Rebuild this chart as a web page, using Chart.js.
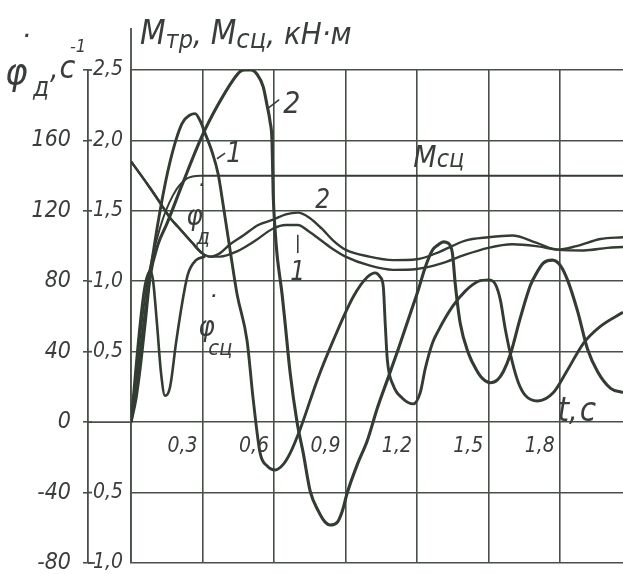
<!DOCTYPE html>
<html><head><meta charset="utf-8">
<script src="https://cdn.jsdelivr.net/npm/chart.js@4.4.1/dist/chart.umd.min.js"></script>
<style>html,body{margin:0;padding:0;background:#fff;} canvas{display:block}</style>
</head><body>
<canvas id="c" width="623" height="574"></canvas>
<script>
// ---- tick values / labels ----
const xTickValues = [0, 0.3, 0.6, 0.9, 1.2, 1.5, 1.8];
const xTickLabels = ['', '0,3', '0,6', '0,9', '1,2', '1,5', '1,8'];
const mTickValues = [-1, -0.5, 0, 0.5, 1, 1.5, 2, 2.5];
const mTickLabels = ['1,0', '0,5', '', '0,5', '1,0', '1,5', '2,0', '2,5'];
const phiTickValues = [-80, -40, 0, 40, 80, 120, 160, 200];
const phiTickLabels = ['-80', '-40', '0', '40', '80', '120', '160', ''];

// ---- M_тр, case 1 (kN·m) ----
const m1T = [0, 0.021, 0.038, 0.059, 0.080, 0.122, 0.164, 0.214, 0.248, 0.269, 0.290, 0.311, 0.340, 0.366, 0.387, 0.416, 0.445, 0.487, 0.513, 0.542, 0.571, 0.605, 0.639, 0.668, 0.710, 0.782, 0.849, 0.933, 0.992, 1.025, 1.046, 1.059, 1.067, 1.076, 1.101, 1.139, 1.185, 1.214, 1.235, 1.265, 1.290, 1.349, 1.403, 1.458, 1.500, 1.529, 1.550, 1.571, 1.600, 1.626, 1.655, 1.706, 1.773, 1.832, 1.899, 1.970, 2.065];
const m1V = [0, 0.24, 0.49, 0.77, 1.05, 1.50, 1.85, 2.12, 2.18, 2.19, 2.14, 2.05, 1.92, 1.76, 1.54, 1.22, 0.91, 0.58, 0.16, -0.22, -0.31, -0.34, -0.30, -0.22, -0.05, 0.30, 0.58, 0.89, 1.03, 1.06, 1.03, 0.96, 0.70, 0.44, 0.26, 0.17, 0.13, 0.21, 0.38, 0.56, 0.65, 0.82, 0.93, 1.00, 1.01, 0.98, 0.87, 0.66, 0.43, 0.28, 0.19, 0.15, 0.21, 0.37, 0.56, 0.68, 0.78];

// ---- M_тр, case 2 (kN·m) ----
const m2T = [0, 0.021, 0.038, 0.059, 0.080, 0.113, 0.151, 0.218, 0.298, 0.361, 0.429, 0.458, 0.479, 0.504, 0.529, 0.555, 0.571, 0.584, 0.592, 0.597, 0.605, 0.613, 0.634, 0.647, 0.668, 0.697, 0.723, 0.752, 0.786, 0.815, 0.836, 0.866, 0.887, 0.908, 0.950, 0.992, 1.034, 1.076, 1.122, 1.172, 1.206, 1.235, 1.265, 1.290, 1.311, 1.332, 1.349, 1.361, 1.382, 1.416, 1.450, 1.475, 1.508, 1.538, 1.563, 1.592, 1.634, 1.676, 1.706, 1.731, 1.769, 1.803, 1.832, 1.874, 1.916, 1.958, 2.013, 2.065];
const m2V = [0, 0.17, 0.38, 0.70, 1.03, 1.26, 1.41, 1.70, 2.03, 2.24, 2.43, 2.49, 2.50, 2.50, 2.47, 2.38, 2.25, 2.13, 1.99, 1.61, 1.36, 1.19, 0.91, 0.70, 0.35, 0.00, -0.22, -0.49, -0.63, -0.71, -0.73, -0.71, -0.63, -0.50, -0.30, -0.13, 0.10, 0.30, 0.52, 0.77, 0.94, 1.10, 1.22, 1.26, 1.28, 1.27, 1.20, 0.98, 0.70, 0.49, 0.37, 0.31, 0.28, 0.30, 0.36, 0.48, 0.74, 0.97, 1.07, 1.13, 1.15, 1.11, 1.01, 0.79, 0.52, 0.36, 0.24, 0.21];

// ---- M_сц (kN·m) ----
const mScT = [0, 0.021, 0.067, 0.122, 0.176, 0.235, 0.290, 2.065];
const mScV = [0, 0.35, 0.98, 1.38, 1.61, 1.73, 1.75, 1.75];

// ---- engine speed φ̇д (s^-1): common start, then cases 1 and 2 ----
const phiStartT = [0, 0.038, 0.080, 0.130, 0.164, 0.197, 0.256, 0.298, 0.332];
const phiStartV = [148, 141, 133, 123, 116, 111, 102, 96, 94];
const phi1T = [0.374, 0.445, 0.521, 0.597, 0.650, 0.700, 0.750, 0.800, 0.850, 0.900, 1.000, 1.100, 1.200, 1.300, 1.400, 1.500, 1.600, 1.700, 1.790, 1.900, 2.000, 2.065];
const phi1V = [94, 97, 103, 110, 112, 112, 108, 103, 98, 94, 89, 86.5, 87, 90, 95, 99, 101, 100, 98, 97.5, 99, 99.5];
const phi2T = [0.374, 0.416, 0.471, 0.534, 0.597, 0.650, 0.700, 0.750, 0.800, 0.850, 0.900, 1.000, 1.100, 1.200, 1.300, 1.400, 1.500, 1.600, 1.700, 1.790, 1.870, 1.970, 2.065];
const phi2V = [96, 101, 106, 112, 115, 118, 119, 116, 110, 103, 98, 94, 92, 92.5, 97, 103, 105, 106, 102, 98, 100, 104, 105];

// ---- clutch speed φ̇сц (s^-1) ----
const phiScT = [0, 0.038, 0.059, 0.080, 0.092, 0.109, 0.126, 0.143, 0.164, 0.189, 0.214, 0.239, 0.273, 0.311];
const phiScV = [0, 56, 78, 86, 81, 56, 28, 15, 20, 45, 67, 84, 92, 94];

const ink = 'rgb(50,60,50)';
const gridInk = 'rgb(72,80,72)';
const textInk = 'rgb(58,62,58)';
const FAM = "'Liberation Sans Narrow','DejaVu Sans Condensed','Liberation Sans',sans-serif";
const fnt = s => ({family: FAM, size: s, style: 'italic', lineHeight: 1});
const cssF = s => `italic ${s}px ${FAM}`;

const pts = (T, V) => T.map((t, i) => ({x: t, y: V[i]}));
const line = (data, axis, w) => ({data, yAxisID: axis, borderColor: ink, borderWidth: w, pointRadius: 0, fill: false, cubicInterpolationMode: 'monotone'});
const noPad = s => { s.paddingTop = 0; s.paddingBottom = 0; s.paddingLeft = 0; s.paddingRight = 0; };

function drawRich(ctx, x, y, parts) {
  let cx = x;
  for (const p of parts) {
    ctx.font = cssF(p.size);
    ctx.fillText(p.t, cx + (p.dx || 0), y + (p.dy || 0));
    cx += ctx.measureText(p.t).width + (p.gap || 0) + (p.dx || 0);
  }
}

// curve labels anchored in data units (t, kN·m)
const curveLabels = [
  {t: 0.639, m: 2.25, parts: [{t: '2', size: 30}]},
  {t: 0.399, m: 1.90, parts: [{t: '1', size: 28}]},
  {t: 0.773, m: 1.57, parts: [{t: '2', size: 26}]},
  {t: 0.668, m: 1.06, parts: [{t: '1', size: 26}]},
  {t: 1.185, m: 1.87, parts: [{t: 'M', size: 30}, {t: 'сц', size: 25, dy: 2}]},
  {t: 1.79, m: 0.07, parts: [{t: 't', size: 33}, {t: ',', size: 30, gap: 2}, {t: 'c', size: 33}]}
];
const leaderLines = [
  [0.622, 2.29, 0.576, 2.23],
  [0.395, 1.91, 0.361, 1.87],
  [0.700, 1.33, 0.700, 1.20]
];
const phiLabels = [
  {t: 0.232, m: 1.45, sub: 'д'},
  {t: 0.282, m: 0.66, sub: 'сц'}
];

const deco = {
  id: 'deco',
  beforeDraw(chart) {
    const c = chart.ctx;
    c.save(); c.fillStyle = '#fff'; c.fillRect(0, 0, chart.width, chart.height); c.restore();
  },
  afterDraw(chart) {
    const c = chart.ctx, a = chart.chartArea, xs = chart.scales.x, ys = chart.scales.y, yp = chart.scales.yPhi;
    c.save();
    c.strokeStyle = gridInk; c.lineWidth = 1.8;
    c.beginPath(); c.moveTo(a.left, a.top); c.lineTo(a.left, 28); c.stroke();
    const y0 = ys.getPixelForValue(0);
    c.beginPath(); c.moveTo(yp.right, y0); c.lineTo(a.left, y0); c.stroke();
    c.beginPath(); c.moveTo(yp.right, a.bottom); c.lineTo(yp.right + 7, a.bottom); c.stroke();
    for (const v of mTickValues) {
      const yy = ys.getPixelForValue(v);
      c.beginPath(); c.moveTo(yp.right, yy); c.lineTo(yp.right + 4, yy); c.stroke();
    }
    c.strokeStyle = textInk; c.lineWidth = 1.6;
    for (const [t1, m1, t2, m2] of leaderLines) {
      c.beginPath(); c.moveTo(xs.getPixelForValue(t1), ys.getPixelForValue(m1));
      c.lineTo(xs.getPixelForValue(t2), ys.getPixelForValue(m2)); c.stroke();
    }
    c.fillStyle = textInk; c.textBaseline = 'middle'; c.textAlign = 'left';
    for (const L of curveLabels) drawRich(c, xs.getPixelForValue(L.t), ys.getPixelForValue(L.m), L.parts);
    for (const L of phiLabels) {
      const px = xs.getPixelForValue(L.t), py = ys.getPixelForValue(L.m);
      c.font = cssF(28); c.fillText('φ', px, py);
      c.fillText('˙', px + 7, py - 20);
      c.font = cssF(22); c.fillText(L.sub, px + 10, py + 20);
    }
    c.textBaseline = 'alphabetic';
    drawRich(c, 140, 44, [
      {t: 'M', size: 33}, {t: 'тр', size: 25, dy: 4}, {t: ', ', size: 31},
      {t: 'M', size: 33}, {t: 'сц', size: 27, dy: 4}, {t: ', кН·м', size: 31}
    ]);
    c.font = cssF(38); c.fillText('φ', 5, 84);
    c.font = cssF(32); c.fillText('˙', 17, 58);
    drawRich(c, 33, 96, [{t: 'д', size: 26}]);
    drawRich(c, 50, 78, [{t: ',', size: 30, gap: 1}, {t: 'c', size: 32}]);
    drawRich(c, 70, 52, [{t: '-1', size: 18}]);
    c.restore();
  }
};

new Chart(document.getElementById('c'), {
  type: 'line',
  data: {
    datasets: [
      line(pts(m1T, m1V), 'y', 2.9),
      line(pts(m2T, m2V), 'y', 3.1),
      line(pts(mScT, mScV), 'y', 2),
      line(pts(phiStartT.concat(phi1T), phiStartV.concat(phi1V)), 'yPhi', 2.4),
      line(pts(phiStartT.concat(phi2T), phiStartV.concat(phi2V)), 'yPhi', 2.4),
      line(pts(phiScT, phiScV), 'yPhi', 2.6)
    ]
  },
  options: {
    responsive: false, animation: false, devicePixelRatio: 1,
    layout: {padding: {top: 70, bottom: 11, left: 0, right: 0}},
    plugins: {legend: {display: false}, tooltip: {enabled: false}},
    scales: {
      x: {
        type: 'linear', min: 0, max: 2.065, position: {y: 0},
        afterBuildTicks: s => { s.ticks = xTickValues.map(v => ({value: v})); },
        afterFit: noPad,
        ticks: {callback: (v, i) => xTickLabels[i], align: 'end', labelOffset: -5, padding: 14,
                font: fnt(21), color: textInk, maxRotation: 0, autoSkip: false},
        grid: {color: gridInk, lineWidth: 1.6, drawTicks: false},
        border: {display: false}
      },
      y: {
        type: 'linear', position: 'left', weight: 0, min: -1, max: 2.5,
        afterBuildTicks: s => { s.ticks = mTickValues.map(v => ({value: v})); },
        afterFit: s => { s.width = 43; noPad(s); },
        ticks: {callback: (v, i) => mTickLabels[i], padding: 8, font: fnt(21), color: textInk, autoSkip: false},
        grid: {color: gridInk, lineWidth: 1.6, drawTicks: false},
        border: {display: true, color: gridInk, width: 1.8}
      },
      yPhi: {
        type: 'linear', position: 'left', weight: 1, min: -80, max: 200,
        afterBuildTicks: s => { s.ticks = phiTickValues.map(v => ({value: v})); },
        afterFit: s => { s.width = 88; noPad(s); },
        ticks: {callback: (v, i) => phiTickLabels[i], padding: 12, font: fnt(23), color: textInk, autoSkip: false},
        grid: {drawOnChartArea: false, drawTicks: true, tickLength: 5, color: gridInk, lineWidth: 1.6},
        border: {display: true, color: gridInk, width: 1.8}
      }
    }
  },
  plugins: [deco]
});
</script>
</body></html>
